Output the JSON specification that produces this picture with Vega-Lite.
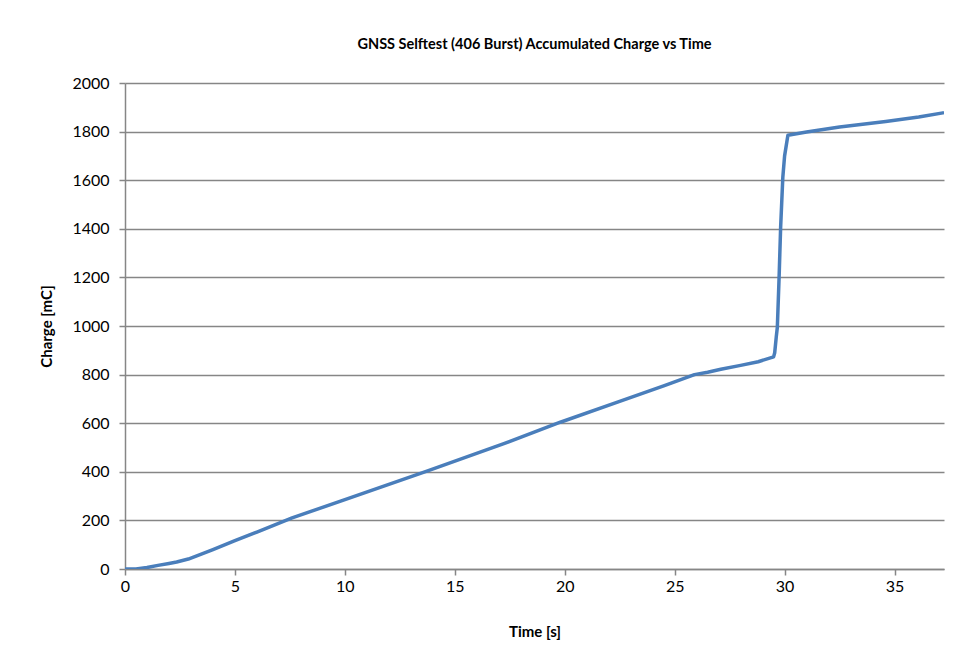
{
  "$schema": "https://vega.github.io/schema/vega-lite/v6.json",
  "autosize": {"type": "none"},
  "padding": {"left": 125, "top": 83, "right": 30, "bottom": 89},
  "width": 819,
  "height": 486,
  "background": "white",
  "title": {
    "text": "GNSS Selftest (406 Burst) Accumulated Charge vs Time",
    "font": "Lato",
    "fontSize": 14.5,
    "fontWeight": "bold",
    "color": "#000000",
    "anchor": "middle",
    "offset": 23
  },
  "data": {
    "values": [
      {"t": 0, "v": 0},
      {"t": 0.5, "v": 0},
      {"t": 1.0, "v": 6},
      {"t": 1.5, "v": 15},
      {"t": 2.0, "v": 23},
      {"t": 2.35, "v": 29},
      {"t": 2.88, "v": 41},
      {"t": 3.5, "v": 62},
      {"t": 4.0, "v": 80},
      {"t": 5.0, "v": 117},
      {"t": 6.0, "v": 152},
      {"t": 7.6, "v": 210},
      {"t": 10.2, "v": 292},
      {"t": 13.7, "v": 402},
      {"t": 17.2, "v": 515},
      {"t": 19.8, "v": 604},
      {"t": 22.4, "v": 687},
      {"t": 24.5, "v": 754},
      {"t": 25.9, "v": 800},
      {"t": 26.5, "v": 810},
      {"t": 27.1, "v": 822},
      {"t": 28.0, "v": 838},
      {"t": 28.8, "v": 853},
      {"t": 29.5, "v": 873},
      {"t": 29.55, "v": 890},
      {"t": 29.62, "v": 954},
      {"t": 29.67, "v": 995},
      {"t": 29.75, "v": 1200},
      {"t": 29.82, "v": 1407},
      {"t": 29.92, "v": 1613},
      {"t": 30.0, "v": 1700},
      {"t": 30.15, "v": 1785},
      {"t": 31.0, "v": 1798},
      {"t": 32.5, "v": 1819},
      {"t": 34.6, "v": 1842},
      {"t": 36.1, "v": 1860},
      {"t": 37.2, "v": 1877}
    ]
  },
  "mark": {"type": "line", "color": "#4a7ebb", "strokeWidth": 3.5, "strokeJoin": "round", "strokeCap": "round", "clip": true},
  "encoding": {
    "x": {
      "field": "t",
      "type": "quantitative",
      "scale": {"domain": [0, 37.25], "nice": false, "zero": false},
      "axis": {
        "title": "Time [s]",
        "values": [0, 5, 10, 15, 20, 25, 30, 35],
        "format": "d",
        "grid": false,
        "domainColor": "#868686",
        "domainWidth": 1.5,
        "tickColor": "#868686",
        "tickWidth": 1.5,
        "tickSize": 6,
        "labelFont": "Lato",
        "labelFontSize": 16,
        "labelColor": "#000000",
        "labelPadding": 3,
        "labelFlush": false,
        "titleFont": "Lato",
        "titleFontSize": 15,
        "titleFontWeight": "bold",
        "titleColor": "#000000",
        "titlePadding": 30
      }
    },
    "y": {
      "field": "v",
      "type": "quantitative",
      "scale": {"domain": [0, 2000], "nice": false},
      "axis": {
        "title": "Charge [mC]",
        "values": [0, 200, 400, 600, 800, 1000, 1200, 1400, 1600, 1800, 2000],
        "format": "d",
        "grid": true,
        "gridColor": "#868686",
        "gridWidth": 1.5,
        "domainColor": "#868686",
        "domainWidth": 1.5,
        "tickColor": "#868686",
        "tickWidth": 1.5,
        "tickSize": 6,
        "labelFont": "Lato",
        "labelFontSize": 16,
        "labelColor": "#000000",
        "labelPadding": 10,
        "labelFlush": false,
        "titleFont": "Lato",
        "titleFontSize": 15,
        "titleFontWeight": "bold",
        "titleColor": "#000000",
        "titlePadding": 17
      }
    }
  },
  "config": {
    "view": {"stroke": null}
  }
}
